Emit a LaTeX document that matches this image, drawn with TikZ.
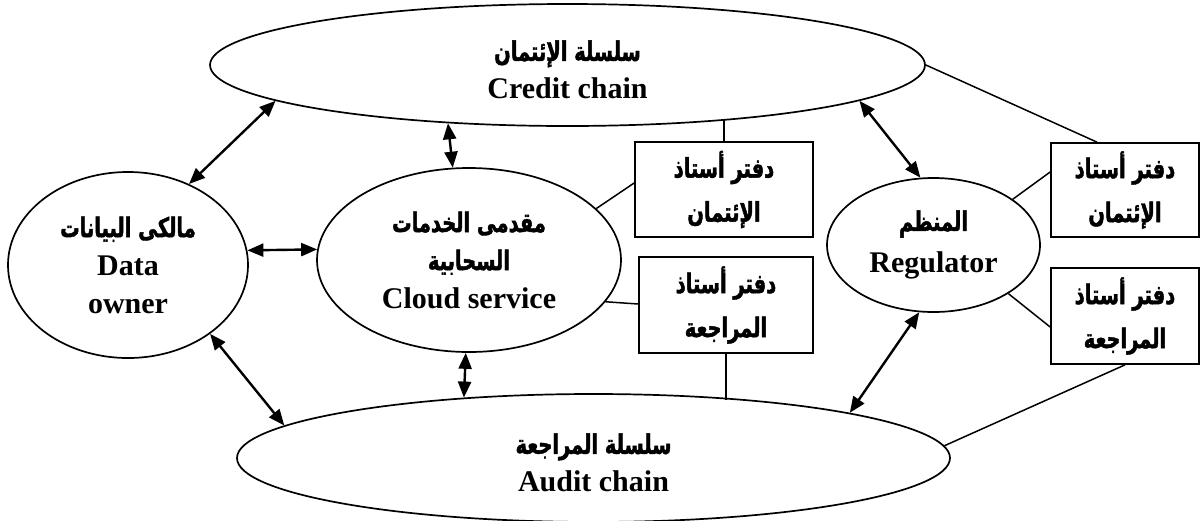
\documentclass[tikz,border=0pt]{standalone}
\usepackage{fontspec}
\setmainfont{Liberation Serif}
\newfontfamily\arabicfont[Script=Arabic,FakeStretch=0.72,FakeBold=1.6]{DejaVu Sans}
\TeXXeTstate=1
\usetikzlibrary{shapes.geometric,arrows.meta}
\newcommand{\artxt}[1]{{\arabicfont\bfseries\fontsize{27}{30}\selectfont\beginR #1\endR}}
\newcommand{\entxt}{\fontsize{30}{38}\selectfont\bfseries}
\tikzset{
  ell/.style={ellipse, draw, line width=1.7pt, inner sep=0pt, align=center, font=\entxt},
  ledger/.style={rectangle, draw, line width=1.7pt, inner sep=0pt, align=center, font=\fontsize{23}{44}\selectfont},
  biarrow/.style={line width=2.4pt, {Triangle[length=16pt,width=13pt]}-{Triangle[length=16pt,width=13pt]}},
  link/.style={line width=1.5pt},
}
\begin{document}
\begin{tikzpicture}[x=1pt,y=-1pt]
\useasboundingbox (0,0) rectangle (1204,520);
% main ellipses
\node[ell, minimum width=715pt, minimum height=122pt] (C) at (567.5,65) {\rule{0pt}{30pt}\artxt{سلسلة الإئتمان}\\Credit chain};
\node[ell, minimum width=713pt, minimum height=128pt] (A) at (593.5,458) {\rule{0pt}{30pt}\artxt{سلسلة المراجعة}\\Audit chain};
\node[ell, minimum width=240pt, minimum height=186pt] (O) at (128,265) {\artxt{مالكى البيانات}\\Data\\owner};
\node[ell, minimum width=304pt, minimum height=184pt] (S) at (469,260) {\artxt{مقدمى الخدمات}\\\artxt{السحابية}\\Cloud service};
\node[ell, minimum width=213pt, minimum height=134pt] (R) at (933.5,245) {\artxt{المنظم}\\[4pt]Regulator};
% ledgers
\node[ledger, minimum width=178pt, minimum height=95pt] (B1) at (724,189.5) {\artxt{دفتر أستاذ}\\\artxt{الإئتمان}};
\node[ledger, minimum width=174pt, minimum height=96pt] (B2) at (726,305) {\artxt{دفتر أستاذ}\\\artxt{المراجعة}};
\node[ledger, minimum width=148pt, minimum height=94pt] (B3) at (1125,190) {\artxt{دفتر أستاذ}\\\artxt{الإئتمان}};
\node[ledger, minimum width=148pt, minimum height=96pt] (B4) at (1125,316) {\artxt{دفتر أستاذ}\\\artxt{المراجعة}};
% arrows
\draw[biarrow] (O.53.1) -- (C.187.5);
\draw[biarrow] (O.7.2) -- (S.176.2);
\draw[biarrow] (S.100.5) -- (C.206.5);
\draw[biarrow] (O.-40.4) -- (A.174.2);
\draw[biarrow] (S.268.8) -- (A.155);
\draw[biarrow] (C.-7.8) -- (R.101.4);
\draw[biarrow] (R.258.8) -- (A.10.5);
% links
\draw[link] (B1.north) -- (B1.north |- C.-19.5);
\draw[link] (S.22.1) -- ([yshift=6.5pt]B1.west);
\draw[link] (S.-17.3) -- ([yshift=1pt]B2.west);
\draw[link] (B2.south) -- (B2.south |- A.20);
\draw[link] (R.30.1) -- ([yshift=18pt]B3.west);
\draw[link] (R.-33) -- ([yshift=-11pt]B4.west);
\draw[link] (C.east) -- ([xshift=-28pt]B3.north);
\draw[link] (B4.south) -- (A.2.5);
\end{tikzpicture}
\end{document}
